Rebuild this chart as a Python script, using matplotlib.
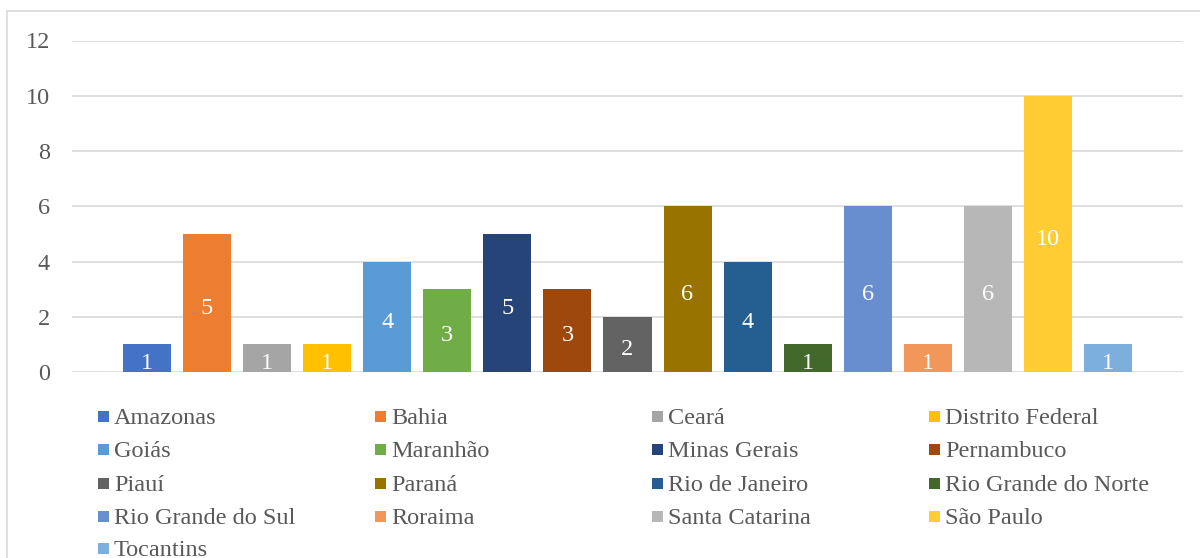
import matplotlib
matplotlib.use("Agg")
import matplotlib.pyplot as plt
from matplotlib.patches import Rectangle
from matplotlib.transforms import offset_copy

states = ["Amazonas", "Bahia", "Ceará", "Distrito Federal", "Goiás", "Maranhão",
          "Minas Gerais", "Pernambuco", "Piauí", "Paraná", "Rio de Janeiro",
          "Rio Grande do Norte", "Rio Grande do Sul", "Roraima", "Santa Catarina",
          "São Paulo", "Tocantins"]
values = [1, 5, 1, 1, 4, 3, 5, 3, 2, 6, 4, 1, 6, 1, 6, 10, 1]
colors = ["#4472C4", "#ED7D31", "#A5A5A5", "#FFC000", "#5B9BD5", "#70AD47",
          "#264478", "#9E480E", "#636363", "#997300", "#255E91", "#43682B",
          "#698ED0", "#F1975A", "#B7B7B7", "#FFCD33", "#7CAFDD"]
yticks = [0, 2, 4, 6, 8, 10, 12]

plt.rcParams['font.family'] = ['Liberation Serif', 'DejaVu Serif']
TXT = "#595959"
FS = 17.5

W, H = 1200, 558
fig = plt.figure(figsize=(W / 100, H / 100), dpi=100)
fig.patch.set_facecolor("white")

# outer border (chart frame)
fig.add_artist(Rectangle((7 / W, -0.1), 1.2, 1 - 11 / H + 0.1, transform=fig.transFigure,
                         fill=False, edgecolor="#D9D9D9", linewidth=1.2))

ax = fig.add_axes([72 / W, (H - 372) / H, (1183 - 72) / W, (372 - 40.5) / H])
x = list(range(len(states)))
bars = ax.bar(x, values, width=0.8, color=colors, zorder=3)
lbl_tr = offset_copy(ax.transData, fig=fig, x=0, y=-2, units="points")
for xi, v in zip(x, values):
    ax.text(xi, v / 2, str(v), ha="center", va="center_baseline", color="white",
            fontsize=FS, zorder=4, transform=lbl_tr)

ax.set_xlim(-1.25, len(states) - 1 + 1.25)
ax.set_ylim(0, 12)
ax.set_yticks(yticks)
ax.set_yticklabels([str(t) for t in yticks], fontsize=FS, color=TXT)
ax.tick_params(axis="y", length=0, pad=16)
ax.set_xticks([])
ax.grid(axis="y", color="#D9D9D9", linewidth=1.2, zorder=0)
for s in ax.spines.values():
    s.set_visible(False)

# legend (row-major, 4 columns)
col_x = [98, 375, 652, 929]
row_y = [416, 449, 483, 516, 548]
sq = 11
for i, (name, c) in enumerate(zip(states, colors)):
    r, cidx = divmod(i, 4)
    x0 = col_x[cidx]
    y0 = row_y[r]
    fig.add_artist(Rectangle((x0 / W, (H - y0 - sq / 2) / H), sq / W, sq / H,
                             transform=fig.transFigure, facecolor=c, edgecolor="none"))
    fig.text((x0 + sq + 5) / W, (H - y0) / H, name, ha="left", va="center_baseline",
             fontsize=FS, color=TXT)

fig.savefig("out.png", dpi=100)
